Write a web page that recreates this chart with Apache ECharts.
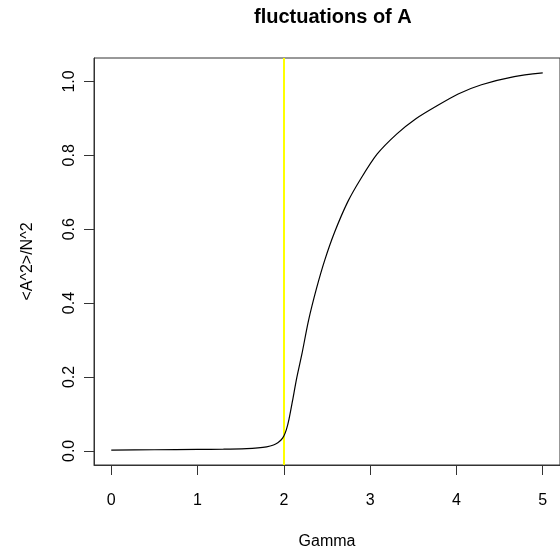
<!DOCTYPE html>
<html>
<head>
<meta charset="utf-8">
<script src="https://cdn.jsdelivr.net/npm/echarts@6/dist/echarts.min.js"></script>
<style>
html,body{margin:0;padding:0;background:#fff;}
#chart{width:560px;height:555px;}
</style>
</head>
<body>
<div id="chart"></div>
<script>
var titleText = "fluctuations of A";
var xName = "Gamma";
var yName = "<A^2>/N^2";
var xTicks = [0, 1, 2, 3, 4, 5];
var yTicks = [0, 0.2, 0.4, 0.6, 0.8, 1.0];
var gammaVals = [0, 0.5, 1.0, 1.3, 1.57, 1.7, 1.8, 1.88, 1.93, 1.97, 2.0, 2.03, 2.06, 2.1, 2.15, 2.21, 2.285, 2.38, 2.475, 2.59, 2.74, 2.89, 3.08, 3.31, 3.53, 3.76, 4.02, 4.29, 4.67, 5.0];
var fluctVals = [0.002, 0.003, 0.004, 0.0045, 0.006, 0.008, 0.011, 0.016, 0.022, 0.03, 0.04, 0.058, 0.086, 0.135, 0.198, 0.263, 0.352, 0.441, 0.517, 0.593, 0.674, 0.736, 0.803, 0.858, 0.899, 0.932, 0.966, 0.991, 1.013, 1.023];
var criticalGamma = 2;

var seriesData = gammaVals.map(function (g, i) { return [g, fluctVals[i]]; });
var font = "Liberation Sans, Arial, Helvetica, sans-serif";

var chart = echarts.init(document.getElementById('chart'), null, {renderer: 'canvas'});
chart.setOption({
  animation: false,
  backgroundColor: '#ffffff',
  title: {
    text: titleText,
    left: 254,
    top: 7,
    padding: 0,
    textStyle: {fontFamily: font, fontSize: 20, fontWeight: 'bold', color: '#000'}
  },
  grid: {
    left: 94, top: 58, width: 476, height: 411,
    show: true, borderColor: '#333', borderWidth: 1, backgroundColor: 'transparent'
  },
  xAxis: {
    type: 'value',
    min: -0.2, max: 5.2,
    name: xName,
    nameLocation: 'middle',
    nameGap: 69,
    nameTextStyle: {fontFamily: font, fontSize: 16, color: '#000'},
    axisLine: {show: true, onZero: false, lineStyle: {color: '#333', width: 1}},
    axisTick: {show: true, inside: false, length: 10, customValues: xTicks, lineStyle: {color: '#333', width: 1}},
    axisLabel: {show: true, margin: 28, customValues: xTicks, fontFamily: font, fontSize: 16, color: '#000',
      formatter: function (v) { return String(Math.round(v)); }},
    splitLine: {show: false}
  },
  yAxis: {
    type: 'value',
    position: 'left',
    min: -0.0383, max: 1.0635,
    name: yName,
    nameLocation: 'middle',
    nameGap: 58,
    nameRotate: 90,
    nameTextStyle: {fontFamily: font, fontSize: 16, color: '#000'},
    axisLine: {show: true, onZero: false, lineStyle: {color: '#333', width: 1}},
    axisTick: {show: true, inside: false, length: 10, customValues: yTicks, lineStyle: {color: '#333', width: 1}},
    axisLabel: {show: true, margin: 16, rotate: 90, customValues: yTicks, fontFamily: font, fontSize: 16, color: '#000',
      formatter: function (v) { return v.toFixed(1); }},
    splitLine: {show: false}
  },
  series: [{
    type: 'line',
    data: seriesData,
    showSymbol: false,
    smooth: 0.25,
    lineStyle: {color: '#000', width: 1.2},
    z: 2,
    markLine: {
      silent: true,
      symbol: ['none', 'none'],
      label: {show: false},
      lineStyle: {color: '#ffff00', width: 2, type: 'solid'},
      data: [{xAxis: criticalGamma}],
      z: 1
    }
  }]
});
</script>
</body>
</html>
